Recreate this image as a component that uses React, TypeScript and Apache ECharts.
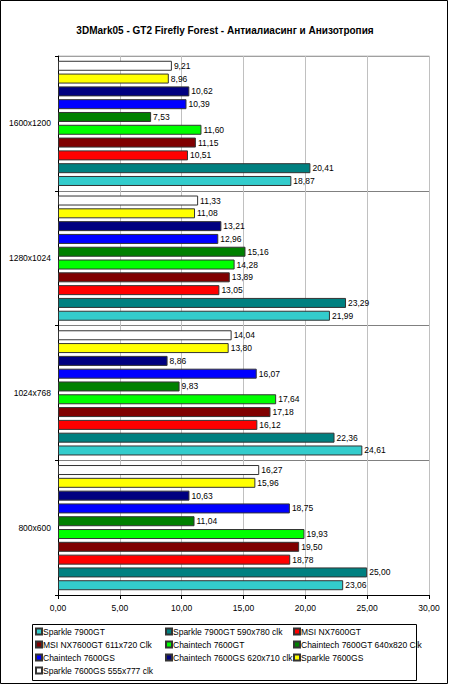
import React, { useEffect, useRef } from "react";
import * as echarts from "echarts";

const categories = ["800x600", "1024x768", "1280x1024", "1600x1200"];

const seriesNames = [
  "Sparkle 7900GT",
  "Sparkle 7900GT 590x780 clk",
  "MSI NX7600GT",
  "MSI NX7600GT 611x720 Clk",
  "Chaintech 7600GT",
  "Chaintech 7600GT 640x820 Clk",
  "Chaintech 7600GS",
  "Chaintech 7600GS 620x710 clk",
  "Sparkle 7600GS",
  "Sparkle 7600GS 555x777 clk",
];

const seriesColors = [
  "#33CCCC",
  "#008080",
  "#FF0000",
  "#800000",
  "#00FF00",
  "#008000",
  "#0000FF",
  "#000080",
  "#FFFF00",
  "#FFFFFF",
];

const sparkle7900GT = [23.06, 24.61, 21.99, 18.87];
const sparkle7900GTOc = [25.0, 22.36, 23.29, 20.41];
const msi7600GT = [18.78, 16.12, 13.05, 10.51];
const msi7600GTOc = [19.5, 17.18, 13.89, 11.15];
const chaintech7600GT = [19.93, 17.64, 14.28, 11.6];
const chaintech7600GTOc = [11.04, 9.83, 15.16, 7.53];
const chaintech7600GS = [18.75, 16.07, 12.96, 10.39];
const chaintech7600GSOc = [10.63, 8.86, 13.21, 10.62];
const sparkle7600GS = [15.96, 13.8, 11.08, 8.96];
const sparkle7600GSOc = [16.27, 14.04, 11.33, 9.21];

const seriesValues = [
  sparkle7900GT,
  sparkle7900GTOc,
  msi7600GT,
  msi7600GTOc,
  chaintech7600GT,
  chaintech7600GTOc,
  chaintech7600GS,
  chaintech7600GSOc,
  sparkle7600GS,
  sparkle7600GSOc,
];

const xTicks = [0, 5, 10, 15, 20, 25, 30];

const FONT = "Liberation Sans";
const fmt = (v: number) => v.toFixed(2).replace(".", ",");

export default function App() {
  const ref = useRef<HTMLDivElement>(null);

  useEffect(() => {
    document.body.style.margin = "0";
    if (!ref.current) return;
    const chart = echarts.init(ref.current, undefined, { renderer: "svg" });

    const legendCols = [35, 165, 293];
    const legendRows = [627, 640, 653, 666];
    const legends = seriesNames.map((name, i) => ({
      data: [name],
      left: legendCols[i % 3],
      top: legendRows[Math.floor(i / 3)],
      icon: "rect",
      itemWidth: 6,
      itemHeight: 6,
      itemGap: 0,
      padding: 0,
      textStyle: { fontFamily: FONT, fontSize: 8.5, color: "#000", padding: [0, 0, 0, -4] },
    }));

    // ECharts stacks the first series at the top of a horizontal band; the
    // reference has the first series at the bottom, so draw them reversed.
    const order = seriesNames.map((_, i) => i).reverse();

    chart.setOption({
      animation: false,
      backgroundColor: "#fff",
      textStyle: { fontFamily: FONT },
      title: {
        text: "3DMark05 - GT2 Firefly Forest - Антиалиасинг и Анизотропия",
        left: "center",
        top: 20,
        textStyle: { fontFamily: FONT, fontSize: 10, fontWeight: "bold", color: "#000" },
      },
      legend: legends,
      grid: { left: 58, right: 21, top: 56, bottom: 90, containLabel: false },
      xAxis: {
        type: "value",
        min: 0,
        max: 30,
        interval: 5,
        axisLine: { show: true, lineStyle: { color: "#000", width: 1 } },
        axisTick: { show: true, length: 4, lineStyle: { color: "#000" } },
        axisLabel: {
          formatter: (v: number) => (xTicks.includes(v) ? fmt(v) : ""),
          fontFamily: FONT,
          fontSize: 8.5,
          color: "#000",
          margin: 8,
        },
        splitLine: { show: true, lineStyle: { color: "#C0C0C0", width: 1 } },
      },
      yAxis: {
        type: "category",
        data: categories,
        axisLine: { show: true, lineStyle: { color: "#000", width: 1 } },
        axisTick: { show: true, length: 3, lineStyle: { color: "#000" } },
        axisLabel: { fontFamily: FONT, fontSize: 8.5, color: "#000", margin: 7 },
        splitLine: { show: true, lineStyle: { color: "#808080", width: 1 } },
      },
      graphic: [
        {
          type: "rect",
          shape: { x: 0.5, y: 0.5, width: 447, height: 683 },
          style: { fill: "none", stroke: "#000", lineWidth: 1 },
          z: 100,
        },
        {
          type: "rect",
          shape: { x: 32.5, y: 624.5, width: 384, height: 56 },
          style: { fill: "none", stroke: "#000", lineWidth: 1 },
          z: 100,
        },
        {
          type: "line",
          shape: { x1: 59, y1: 56, x2: 429.5, y2: 56 },
          style: { stroke: "#C0C0C0", lineWidth: 1 },
          z: 100,
        },
      ],
      series: order.map((i) => ({
        name: seriesNames[i],
        type: "bar",
        data: seriesValues[i],
        barWidth: 10,
        barGap: "28%",
        itemStyle: { color: seriesColors[i], borderColor: "#333", borderWidth: 1 },
        label: {
          show: true,
          position: "right",
          distance: 2,
          formatter: (p: any) => fmt(p.value),
          fontFamily: FONT,
          fontSize: 8.5,
          color: "#000",
        },
      })),
    });

    return () => chart.dispose();
  }, []);

  return <div ref={ref} style={{ width: 450, height: 685 }} />;
}
